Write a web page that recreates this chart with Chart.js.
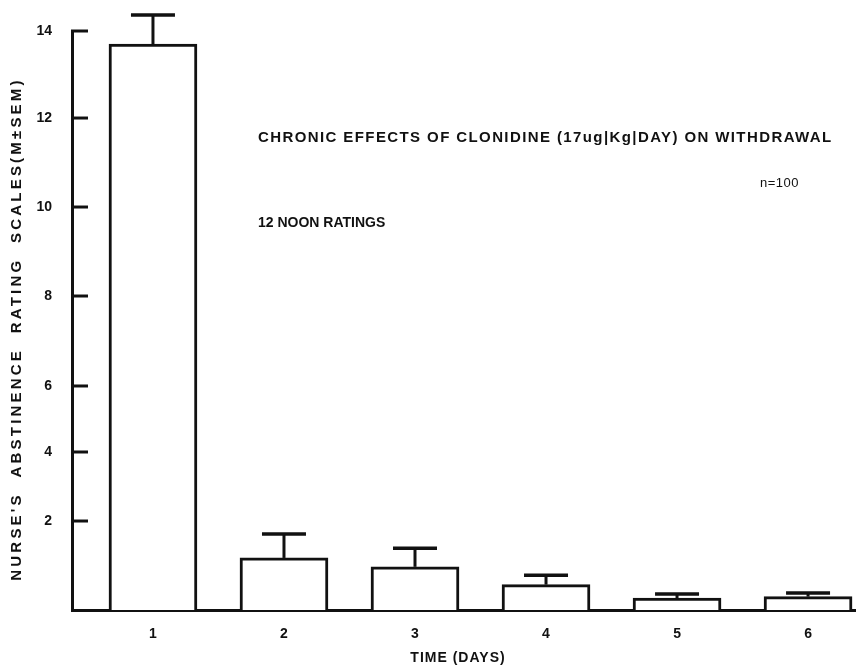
<!DOCTYPE html>
<html>
<head>
<meta charset="utf-8">
<script src="https://cdn.jsdelivr.net/npm/chart.js@4/dist/chart.umd.min.js"></script>
<style>
  html, body { margin: 0; padding: 0; background: #fff; }
  canvas { display: block; }
</style>
</head>
<body>
<canvas id="c" width="856" height="667"></canvas>
<script>
// Nurse's abstinence ratings, 12 noon, days 1-6 of chronic clonidine
const days = ['1', '2', '3', '4', '5', '6'];
const meanScores = [13.70, 1.17, 0.97, 0.57, 0.27, 0.30];
const semUpper = [0.67, 0.54, 0.42, 0.21, 0.09, 0.08];
const yTickValues = [2, 4, 6, 8, 10, 12, 14];

// The printed rating axis is hand-ruled: its tick marks are not evenly spaced.
// Each tick value is mapped to its share of the axis height.
const axisKnotValues = [0, 2, 4, 6, 8, 10, 12, 14];
const axisKnotShares = [0, 0.1537, 0.2729, 0.3869, 0.5423, 0.6960, 0.8497, 1];

function valueToShare(v) {
  const n = axisKnotValues.length;
  let i = 0;
  if (v >= axisKnotValues[n - 1]) i = n - 2;
  else while (i < n - 2 && v > axisKnotValues[i + 1]) i++;
  const v0 = axisKnotValues[i], v1 = axisKnotValues[i + 1];
  const s0 = axisKnotShares[i], s1 = axisKnotShares[i + 1];
  return s0 + (v - v0) * (s1 - s0) / (v1 - v0);
}
function shareToValue(s) {
  const n = axisKnotShares.length;
  let i = 0;
  if (s >= axisKnotShares[n - 1]) i = n - 2;
  else while (i < n - 2 && s > axisKnotShares[i + 1]) i++;
  const v0 = axisKnotValues[i], v1 = axisKnotValues[i + 1];
  const s0 = axisKnotShares[i], s1 = axisKnotShares[i + 1];
  return v0 + (s - s0) * (v1 - v0) / (s1 - s0);
}

class HandRuledScale extends Chart.LinearScale {
  getPixelForValue(value) {
    return this.getPixelForDecimal(valueToShare(value));
  }
  getValueForPixel(pixel) {
    return shareToValue(this.getDecimalForPixel(pixel));
  }
}
HandRuledScale.id = 'handruled';
HandRuledScale.defaults = Chart.LinearScale.defaults;
Chart.register(HandRuledScale);

const INK = '#111';
const FONT = '"Liberation Sans", Arial, sans-serif';

// Upward SEM whiskers with caps
const semWhiskers = {
  id: 'semWhiskers',
  afterDatasetsDraw(chart) {
    const ctx = chart.ctx;
    const y = chart.scales.y;
    const meta = chart.getDatasetMeta(0);
    ctx.save();
    ctx.strokeStyle = INK;
    ctx.lineCap = 'butt';
    meta.data.forEach((bar, i) => {
      const yMean = y.getPixelForValue(meanScores[i]);
      const yTop = y.getPixelForValue(meanScores[i] + semUpper[i]);
      ctx.lineWidth = 3;
      ctx.beginPath();
      ctx.moveTo(bar.x, yMean);
      ctx.lineTo(bar.x, yTop);
      ctx.stroke();
      ctx.lineWidth = 3.5;
      ctx.beginPath();
      ctx.moveTo(bar.x - 22, yTop);
      ctx.lineTo(bar.x + 22, yTop);
      ctx.stroke();
    });
    ctx.restore();
  }
};

// Inward tick marks on the rating axis
const inwardTicks = {
  id: 'inwardTicks',
  afterDraw(chart) {
    const ctx = chart.ctx;
    const y = chart.scales.y;
    const left = chart.chartArea.left;
    ctx.save();
    ctx.strokeStyle = INK;
    ctx.lineWidth = 3;
    yTickValues.forEach(v => {
      const py = y.getPixelForValue(v);
      ctx.beginPath();
      ctx.moveTo(left - 1, py);
      ctx.lineTo(left + 16, py);
      ctx.stroke();
    });
    ctx.restore();
  }
};

// Axis titles and figure notes
const figureText = {
  id: 'figureText',
  afterDraw(chart) {
    const ctx = chart.ctx;
    const a = chart.chartArea;
    ctx.save();
    ctx.fillStyle = INK;
    ctx.textBaseline = 'middle';
    ctx.textAlign = 'left';

    ctx.font = 'bold 15px ' + FONT;
    ctx.letterSpacing = '1.4px';
    ctx.fillText('CHRONIC EFFECTS OF CLONIDINE (17ug|Kg|DAY) ON WITHDRAWAL', a.left + 186, 138);
    ctx.font = 'bold 14px ' + FONT;
    ctx.letterSpacing = '0px';
    ctx.fillText('12 NOON RATINGS', a.left + 186, 223);
    ctx.font = '13px ' + FONT;
    ctx.letterSpacing = '0.5px';
    ctx.fillText('n=100', a.left + 688, 183);

    ctx.font = 'bold 14px ' + FONT;
    ctx.letterSpacing = '1px';
    ctx.textAlign = 'center';
    ctx.fillText('TIME (DAYS)', 458, 658);

    ctx.translate(17, 329);
    ctx.rotate(-Math.PI / 2);
    ctx.font = 'bold 15px ' + FONT;
    ctx.letterSpacing = '3.2px';
    ctx.fillText('NURSE\'S  ABSTINENCE  RATING  SCALES(M\u00B1SEM)', 0, 0);
    ctx.restore();
  }
};

new Chart(document.getElementById('c'), {
  type: 'bar',
  data: {
    datasets: [{
      data: days.map((d, i) => ({ x: Number(d), y: meanScores[i] })),
      backgroundColor: '#fff',
      borderColor: INK,
      borderWidth: 3,
      borderSkipped: 'bottom',
      barThickness: 88
    }]
  },
  options: {
    responsive: false,
    animation: false,
    devicePixelRatio: 1,
    layout: { padding: { top: 31, right: 0, left: 0, bottom: 0 } },
    plugins: { legend: { display: false }, tooltip: { enabled: false } },
    scales: {
      x: {
        type: 'linear',
        offset: false,
        min: 0.382,
        max: 6.366,
        grid: { display: false, drawTicks: false, offset: false },
        border: { display: true, color: INK, width: 3 },
        afterBuildTicks(scale) { scale.ticks = days.map(d => ({ value: Number(d) })); },
        afterFit(scale) { scale.height = 57; },
        ticks: {
          color: INK,
          padding: 16,
          font: { family: FONT, size: 14, weight: 'bold' },
          callback: (v) => days.includes(String(v)) ? String(v) : ''
        }
      },
      y: {
        type: 'handruled',
        min: 0,
        max: 14,
        grid: { display: false, drawTicks: false },
        border: { display: true, color: INK, width: 3 },
        afterBuildTicks(scale) { scale.ticks = yTickValues.map(v => ({ value: v })); },
        afterFit(scale) { scale.width = 72; },
        ticks: {
          color: INK,
          padding: 20,
          font: { family: FONT, size: 14, weight: 'bold' }
        }
      }
    }
  },
  plugins: [semWhiskers, inwardTicks, figureText]
});
</script>
</body>
</html>
